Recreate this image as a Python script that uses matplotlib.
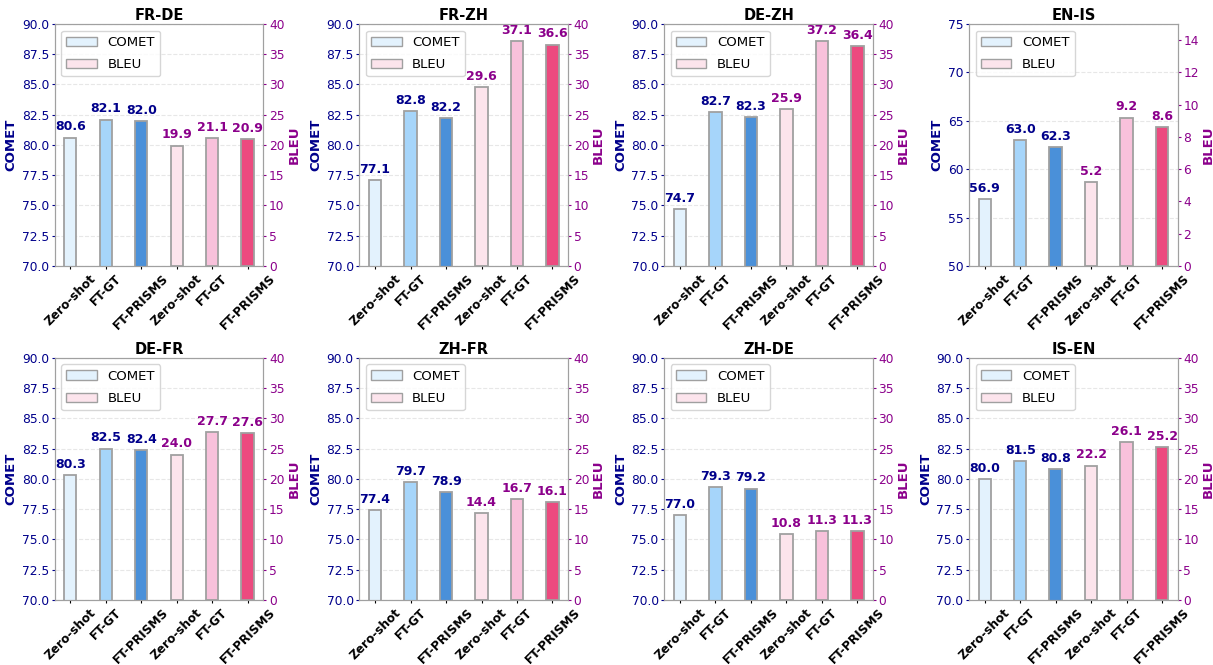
import numpy as np
import matplotlib.pyplot as plt
from matplotlib.patches import Patch

# Данные по языковым парам
pairs = ['FR-DE', 'FR-ZH', 'DE-ZH', 'EN-IS', 'DE-FR', 'ZH-FR', 'ZH-DE', 'IS-EN']
methods = ['Zero-shot', 'FT-GT', 'FT-PRISMS']

comet = [
    [80.6, 82.1, 82.0],
    [77.1, 82.8, 82.2],
    [74.7, 82.7, 82.3],
    [56.9, 63.0, 62.3],
    [80.3, 82.5, 82.4],
    [77.4, 79.7, 78.9],
    [77.0, 79.3, 79.2],
    [80.0, 81.5, 80.8],
]
bleu = [
    [19.9, 21.1, 20.9],
    [29.6, 37.1, 36.6],
    [25.9, 37.2, 36.4],
    [5.2, 9.2, 8.6],
    [24.0, 27.7, 27.6],
    [14.4, 16.7, 16.1],
    [10.8, 11.3, 11.3],
    [22.2, 26.1, 25.2],
]

comet_colors = ['#E3F2FD', '#A6D5FA', '#4A90D9']
bleu_colors = ['#FCE4EC', '#F8C1DB', '#EC4A7F']
c_comet = '#00008B'
c_bleu = '#8B008B'

fig, axes = plt.subplots(2, 4, figsize=(12.13, 6.65))
fig.subplots_adjust(left=0.045, right=0.971, top=0.964, bottom=0.098,
                    wspace=0.46, hspace=0.38)

w = 0.35
for k, ax in enumerate(axes.flat):
    ax2 = ax.twinx()
    xc = np.arange(3)
    xb = np.arange(3, 6)
    ax.bar(xc, comet[k], width=w, color=comet_colors, edgecolor='#A0A0A0', linewidth=1.3)
    ax2.bar(xb, bleu[k], width=w, color=bleu_colors, edgecolor='#A0A0A0', linewidth=1.3)

    if pairs[k] == 'EN-IS':
        ax.set_ylim(50, 75)
        ax2.set_ylim(0, 15)
        ax2.set_yticks(np.arange(0, 15, 2))
    else:
        ax.set_ylim(70, 90)
        ax2.set_ylim(0, 40)

    for x, v in zip(xc, comet[k]):
        ax.annotate(f'{v:.1f}', (x, v), xytext=(0, 3), textcoords='offset points',
                    ha='center', va='bottom', fontsize=9, fontweight='bold', color=c_comet)
    for x, v in zip(xb, bleu[k]):
        ax2.annotate(f'{v:.1f}', (x, v), xytext=(0, 3), textcoords='offset points',
                     ha='center', va='bottom', fontsize=9, fontweight='bold', color=c_bleu)

    ax.set_xticks(np.arange(6))
    ax.set_xticklabels(methods * 2, rotation=45, fontsize=8.7, fontweight='bold')
    ax.tick_params(axis='x', length=2.5, pad=2)
    ax.set_title(pairs[k], fontsize=10.5, fontweight='bold', pad=3)
    ax.set_ylabel('COMET', fontsize=9.5, fontweight='bold', color=c_comet, labelpad=3)
    ax2.set_ylabel('BLEU', fontsize=9.5, fontweight='bold', color=c_bleu, labelpad=2)
    ax.tick_params(axis='y', colors=c_comet, labelsize=8.8, length=2.5, pad=1.5)
    ax2.tick_params(axis='y', colors=c_bleu, labelsize=8.8, length=2.5, pad=1.5)
    ax.grid(axis='y', linestyle='--', alpha=0.3)
    ax.set_axisbelow(True)
    for a in (ax, ax2):
        for s in a.spines.values():
            s.set_color('#A0A0A0')

    handles = [Patch(facecolor=comet_colors[0], edgecolor='#A0A0A0', label='COMET'),
               Patch(facecolor=bleu_colors[0], edgecolor='#A0A0A0', label='BLEU')]
    ax.legend(handles=handles, loc='upper left', fontsize=9.5, handlelength=2.3,
              labelspacing=0.7)

plt.savefig('out.png', dpi=100)
